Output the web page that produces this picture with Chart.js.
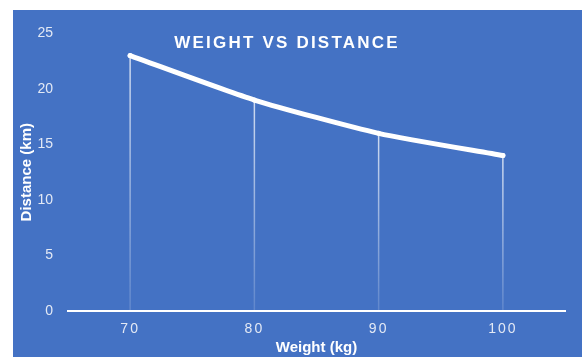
<!DOCTYPE html>
<html>
<head>
<meta charset="utf-8">
<script src="https://cdn.jsdelivr.net/npm/chart.js@4/dist/chart.umd.min.js"></script>
<style>
    html, body { margin: 0; padding: 0; background: #fff; }
    #wrap { position: absolute; left: 13px; top: 10px; width: 569px; height: 347px; background: #4472c4; }
</style>
</head>
<body>
<div id="wrap"><canvas id="weightChart"></canvas></div>
<script>
const weights = [70, 80, 90, 100];
const distances = [23, 19, 16, 14];
const xTicks = [70, 80, 90, 100];
const yTicks = [0, 5, 10, 15, 20, 25];

const tickColor = '#e3e9f5';
const fontFamily = '"Liberation Sans", Arial, sans-serif';

// vertical drop lines from each point to the x axis, plus the title text
const dropLines = {
    id: 'dropLines',
    afterLayout(chart) {
        // wider letter spacing on the x tick labels
        const xs = chart.scales.x;
        if (xs && !xs._spaced) {
            const orig = xs.drawLabels.bind(xs);
            xs.drawLabels = (area) => {
                chart.ctx.save();
                chart.ctx.letterSpacing = '2px';
                orig(area);
                chart.ctx.restore();
            };
            xs._spaced = true;
        }
    },
    beforeDatasetsDraw(chart) {
        const { ctx, scales: { x, y } } = chart;
        const base = y.getPixelForValue(0);
        ctx.save();
        ctx.lineWidth = 1.5;
        weights.forEach((w, i) => {
            const px = x.getPixelForValue(w);
            const py = y.getPixelForValue(distances[i]);
            const g = ctx.createLinearGradient(0, py, 0, base);
            g.addColorStop(0, 'rgba(255,255,255,0.75)');
            g.addColorStop(1, 'rgba(255,255,255,0.15)');
            ctx.strokeStyle = g;
            ctx.beginPath();
            ctx.moveTo(px, py);
            ctx.lineTo(px, base);
            ctx.stroke();
        });
        ctx.restore();
    },
    afterDraw(chart) {
        const { ctx } = chart;
        ctx.save();
        ctx.fillStyle = '#ffffff';
        ctx.font = 'bold 17px ' + fontFamily;
        ctx.letterSpacing = '2.2px';
        ctx.textAlign = 'center';
        ctx.textBaseline = 'middle';
        ctx.fillText('WEIGHT VS DISTANCE', 274, 33);
        ctx.restore();
    },
};

new Chart(document.getElementById('weightChart'), {
    type: 'scatter',
    data: {
        datasets: [
            {
                label: 'Distance',
                data: weights.map((w, i) => ({ x: w, y: distances[i] })),
                showLine: true,
                borderColor: '#ffffff',
                backgroundColor: '#ffffff',
                borderWidth: 5,
                borderCapStyle: 'round',
                borderJoinStyle: 'round',
                pointRadius: 2.5,
                pointBorderWidth: 0,
                tension: 0.2,
            },
        ],
    },
    options: {
        responsive: true,
        maintainAspectRatio: false,
        animation: false,
        layout: { padding: { top: 20, right: 17, left: 0, bottom: 0 } },
        plugins: {
            legend: { display: false },
            tooltip: { enabled: false },
        },
        scales: {
            x: {
                type: 'linear',
                min: 65,
                max: 105,
                afterBuildTicks: (s) => { s.ticks = xTicks.map((v) => ({ value: v })); },
                afterFit: (s) => { s.height = 46; },
                grid: { display: false, drawTicks: false },
                border: { display: true, color: '#ffffff', width: 2 },
                ticks: {
                    color: tickColor,
                    padding: 10,
                    font: { family: fontFamily, size: 14 },
                },
                title: {
                    display: true,
                    text: 'Weight (kg)',
                    color: '#ffffff',
                    padding: { top: 0, bottom: 0 },
                    font: { family: fontFamily, size: 15, weight: 'bold' },
                },
            },
            y: {
                min: 0,
                max: 25,
                afterBuildTicks: (s) => { s.ticks = yTicks.map((v) => ({ value: v })); },
                afterFit: (s) => { s.width = 55; },
                grid: { display: false, drawTicks: false },
                border: { display: false },
                ticks: {
                    color: tickColor,
                    padding: 15,
                    font: { family: fontFamily, size: 14 },
                },
                title: {
                    display: true,
                    text: 'Distance (km)',
                    color: '#ffffff',
                    padding: { top: 5, bottom: 0 },
                    font: { family: fontFamily, size: 15, weight: 'bold' },
                },
            },
        },
    },
    plugins: [dropLines],
});
</script>
</body>
</html>
